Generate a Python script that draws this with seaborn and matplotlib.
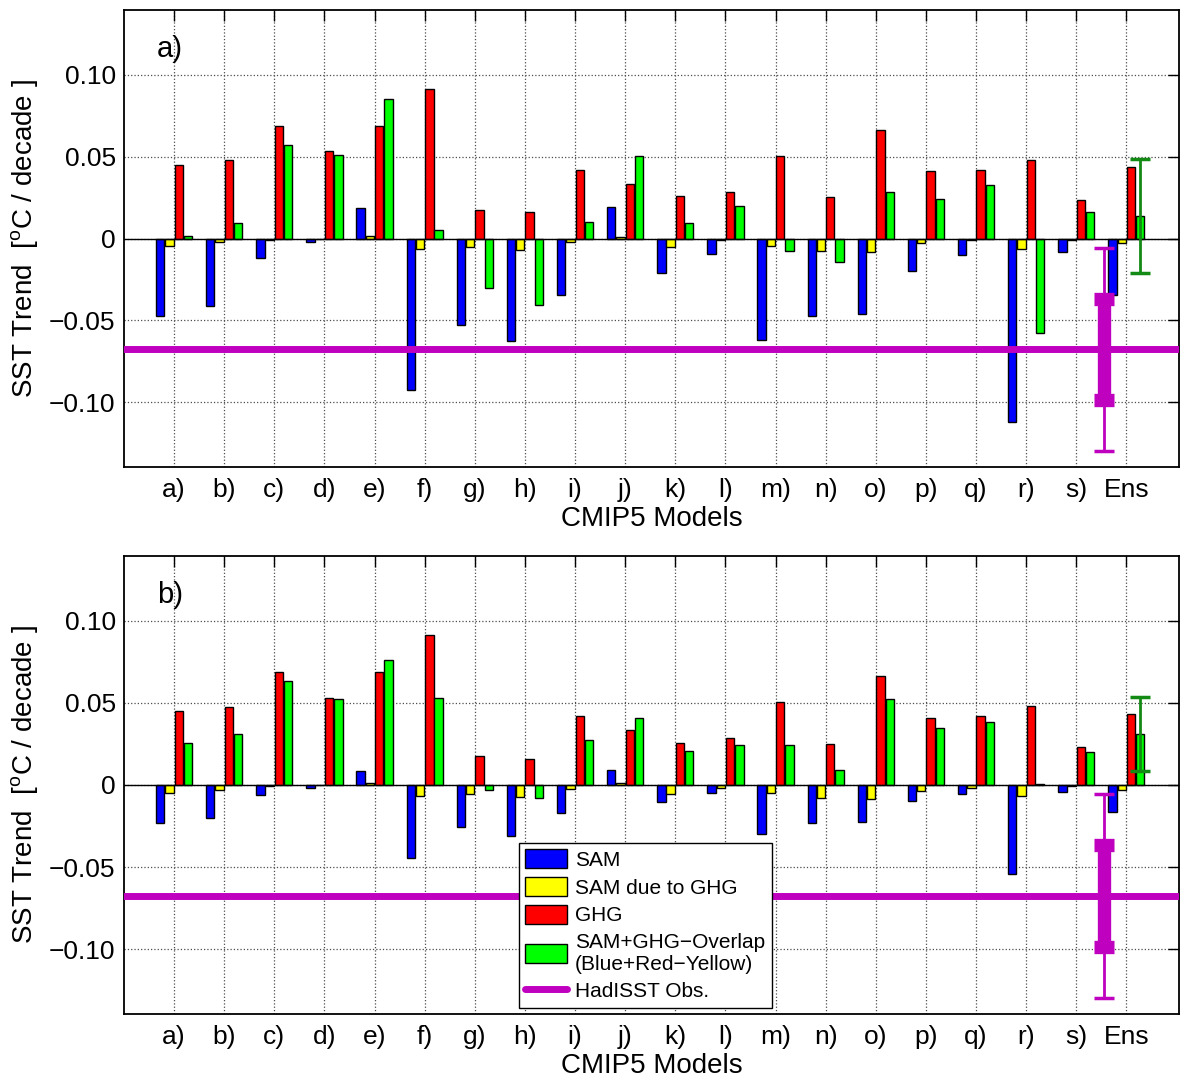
import numpy as np
import pandas as pd
import matplotlib
matplotlib.use("Agg")
import matplotlib.pyplot as plt
from matplotlib.patches import Patch
from matplotlib.lines import Line2D
import seaborn as sns

# ---------------- data ----------------
models = ["a)", "b)", "c)", "d)", "e)", "f)", "g)", "h)", "i)", "j)",
          "k)", "l)", "m)", "n)", "o)", "p)", "q)", "r)", "s)", "Ens"]
components = ["SAM", "SAM due to GHG", "GHG",
              "SAM+GHG\u2212Overlap\n(Blue+Red\u2212Yellow)"]

# panel a
sam_a = [-0.0476, -0.0413, -0.0120, -0.0024, 0.0187, -0.0925, -0.0525, -0.0626, -0.0342, 0.0191,
         -0.0213, -0.0096, -0.0620, -0.0476, -0.0461, -0.0201, -0.0100, -0.1120, -0.0081, -0.0342]
samghg_a = [-0.0043, -0.0024, -0.0008, -0.0002, 0.0014, -0.0063, -0.0049, -0.0069, -0.0024, 0.0012,
            -0.0049, -0.0012, -0.0043, -0.0075, -0.0081, -0.0030, -0.0012, -0.0061, -0.0008, -0.0030]
ghg_a = [0.0451, 0.0478, 0.0685, 0.0535, 0.0685, 0.0913, 0.0177, 0.0159, 0.0421, 0.0335,
         0.0260, 0.0287, 0.0506, 0.0254, 0.0665, 0.0413, 0.0421, 0.0482, 0.0234, 0.0437]
comb_a = [0.0014, 0.0096, 0.0571, 0.0508, 0.0854, 0.0051, -0.0305, -0.0405, 0.0102, 0.0506,
          0.0096, 0.0197, -0.0075, -0.0144, 0.0285, 0.0242, 0.0329, -0.0575, 0.0159, 0.0136]
ens_err_a = 0.0349

# panel b
sam_b = [-0.0232, -0.0200, -0.0061, -0.0016, 0.0088, -0.0446, -0.0257, -0.0308, -0.0169, 0.0094,
         -0.0106, -0.0049, -0.0301, -0.0232, -0.0226, -0.0098, -0.0053, -0.0542, -0.0041, -0.0167]
samghg_b = [-0.0047, -0.0029, -0.0006, -0.0002, 0.0012, -0.0067, -0.0053, -0.0075, -0.0026, 0.0012,
            -0.0053, -0.0016, -0.0049, -0.0079, -0.0086, -0.0035, -0.0016, -0.0065, -0.0008, -0.0033]
ghg_b = [0.0448, 0.0473, 0.0686, 0.0532, 0.0686, 0.0915, 0.0177, 0.0157, 0.0418, 0.0336,
         0.0257, 0.0285, 0.0507, 0.0250, 0.0666, 0.0411, 0.0418, 0.0481, 0.0234, 0.0434]
comb_b = [0.0257, 0.0308, 0.0634, 0.0526, 0.0760, 0.0532, -0.0029, -0.0079, 0.0277, 0.0411,
          0.0208, 0.0246, 0.0246, 0.0092, 0.0526, 0.0348, 0.0385, 0.0006, 0.0202, 0.0310]
ens_err_b = 0.0223

# HadISST observations
obs_trend = -0.0676
obs_err_inner = 0.0308
obs_err_outer = 0.0619

# ---------------- style ----------------
bar_colors = ["#0000ff", "#ffff00", "#ff0000", "#00ff00"]
magenta = "#bf00bf"
dkgreen = "#138a13"
obs_x = 18.55

sns.set_style("white")
plt.rcParams["font.family"] = ["Liberation Sans", "DejaVu Sans"]
plt.rcParams["mathtext.fontset"] = "custom"
plt.rcParams["mathtext.rm"] = "Liberation Sans"
plt.rcParams["text.color"] = "black"
plt.rcParams["axes.labelcolor"] = "black"
plt.rcParams["xtick.color"] = "black"
plt.rcParams["ytick.color"] = "black"

fig = plt.figure(figsize=(11.84, 10.8), dpi=100)
ax_a = fig.add_axes([0.1047, 0.5676, 0.8911, 0.4231])
ax_b = fig.add_axes([0.1047, 0.0611, 0.8911, 0.4241])


def draw_panel(ax, sam, samghg, ghg, comb, ens_err, label):
    df = pd.DataFrame({
        "model": models * 4,
        "component": sum([[c] * len(models) for c in components], []),
        "value": list(sam) + list(samghg) + list(ghg) + list(comb),
    })
    sns.barplot(data=df, x="model", y="value", hue="component",
                order=models, hue_order=components, palette=bar_colors,
                width=0.74, gap=0.1, edgecolor="black", linewidth=1.0,
                errorbar=None, legend=False, ax=ax, zorder=3, saturation=1)
    ax.axhline(0, color="black", lw=1.0, zorder=3.5)
    ax.axhline(obs_trend, color=magenta, lw=5, zorder=4)

    # ensemble spread on green ensemble bar
    gbar = ax.containers[3][len(models) - 1]
    gx = gbar.get_x() + gbar.get_width() / 2
    ax.errorbar([gx], [comb[-1]], yerr=[ens_err], fmt="none", ecolor=dkgreen,
                elinewidth=2, capsize=7, capthick=2.5, zorder=5)

    # observations
    ax.errorbar([obs_x], [obs_trend], yerr=[obs_err_outer], fmt="none",
                ecolor=magenta, elinewidth=2, capsize=7, capthick=2.5, zorder=6)
    ax.errorbar([obs_x], [obs_trend], yerr=[obs_err_inner], fmt="none",
                ecolor=magenta, elinewidth=9.6, capsize=7, capthick=9.6, zorder=6)

    ax.set_xlim(-1, 20.05)
    ax.set_ylim(-0.1395, 0.1395)
    ax.set_yticks([-0.10, -0.05, 0, 0.05, 0.10])
    ax.set_yticklabels(["\u22120.10", "\u22120.05", "0", "0.05", "0.10"])
    ax.set_xticks(range(len(models)))
    ax.set_xticklabels(models)
    ax.tick_params(direction="in", top=True, right=True, length=8, width=1,
                   labelsize=19, pad=8, colors="black")
    ax.tick_params(axis="y", pad=6)
    ax.grid(True, linestyle=":", color="0.3", lw=0.9, zorder=0)
    ax.set_axisbelow(True)
    for s in ax.spines.values():
        s.set_color("black")
        s.set_linewidth(1.3)
    ax.set_xlabel("CMIP5 Models", fontsize=20, labelpad=3)
    ax.set_ylabel("SST Trend  [$^{\\mathrm{o}}$C / decade ]", fontsize=20, labelpad=6)
    ax.text(0.031, 0.945, label, transform=ax.transAxes, fontsize=21,
            ha="left", va="top")


draw_panel(ax_a, sam_a, samghg_a, ghg_a, comb_a, ens_err_a, "a)")
draw_panel(ax_b, sam_b, samghg_b, ghg_b, comb_b, ens_err_b, "b)")

handles = [Patch(facecolor=c, edgecolor="black", lw=1) for c in bar_colors]
handles.append(Line2D([0], [0], color=magenta, lw=5))
labels = components + ["HadISST Obs."]
leg = ax_b.legend(handles, labels, loc="upper left", bbox_to_anchor=(0.3744, 0.373),
                  fontsize=15, frameon=True, fancybox=False, framealpha=1,
                  edgecolor="black", handlelength=2.0, handleheight=1.0,
                  borderpad=0.3, labelspacing=0.35, handletextpad=0.4,
                  borderaxespad=0)
leg.get_frame().set_linewidth(1.0)
leg.set_zorder(10)

fig.savefig("out.png", dpi=100)
